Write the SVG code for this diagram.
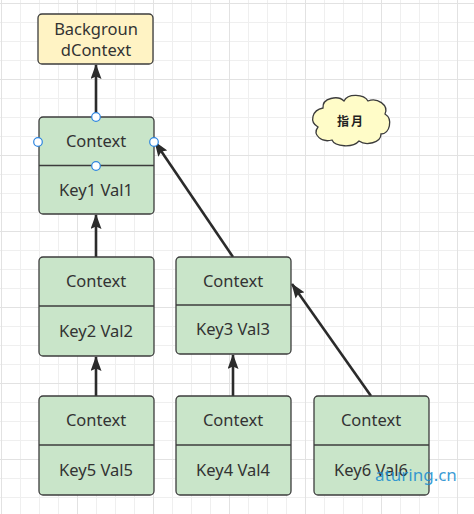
<svg xmlns="http://www.w3.org/2000/svg" width="474" height="514" viewBox="0 0 474 514">
<defs>
<pattern id="minor" x="1" y="3" width="19" height="19" patternUnits="userSpaceOnUse">
<rect x="0" y="0" width="19" height="1" fill="#efefef"/>
<rect x="0" y="0" width="1" height="19" fill="#efefef"/>
</pattern>
<pattern id="major" x="1" y="3" width="76" height="76" patternUnits="userSpaceOnUse">
<rect x="0" y="0" width="76" height="1" fill="#e2e2e2"/>
<rect x="0" y="0" width="1" height="76" fill="#e2e2e2"/>
</pattern>
<marker id="arr" viewBox="0 0 15 11" refX="14" refY="5.5" markerWidth="15" markerHeight="11" markerUnits="userSpaceOnUse" orient="auto">
<path d="M0 0L15 5.5L0 11L2.5 5.5Z" fill="#2b2b2b"/>
</marker>
<style>
.g{fill:#c9e5c9;stroke:#3c3c3c;stroke-width:1.3}
.y{fill:#fff3c4;stroke:#3c3c3c;stroke-width:1.3}
.t{font-family:"Noto Sans","Liberation Sans",sans-serif;font-size:16.5px;fill:#333;text-anchor:middle}
.c{fill:none;stroke:#2b2b2b;stroke-width:2.6;marker-end:url(#arr)}
.h{fill:#fff;stroke:#2f86e0;stroke-width:1.2}
</style>
</defs>
<rect width="474" height="514" fill="#fff"/>
<rect width="474" height="514" fill="url(#minor)"/>
<rect width="474" height="514" fill="url(#major)"/>

<g id="connectors">
<line class="c" x1="96" y1="117" x2="96" y2="65"/>
<line class="c" x1="96" y1="257" x2="96" y2="215"/>
<line class="c" x1="96" y1="396" x2="96" y2="357"/>
<line class="c" x1="233" y1="396" x2="233" y2="355"/>
<line class="c" x1="233" y1="257" x2="155" y2="142"/>
<line class="c" x1="371" y1="396" x2="292" y2="284"/>
</g>

<g id="bg">
<rect class="y" x="38" y="14" width="115" height="50" rx="4"/>
<text class="t" x="96" y="35">Backgroun</text>
<text class="t" x="96" y="56">dContext</text>
</g>

<g id="n1">
<rect class="g" x="39" y="117" width="115" height="97" rx="4"/>
<line x1="39" y1="165.5" x2="154" y2="165.5" stroke="#3c3c3c" stroke-width="1.3"/>
<text class="t" x="96" y="147">Context</text>
<text class="t" x="96" y="196">Key1 Val1</text>
</g>

<g id="n2">
<rect class="g" x="39" y="257" width="115" height="99" rx="4"/>
<line x1="39" y1="306" x2="154" y2="306" stroke="#3c3c3c" stroke-width="1.3"/>
<text class="t" x="96" y="287">Context</text>
<text class="t" x="96" y="337">Key2 Val2</text>
</g>

<g id="n3">
<rect class="g" x="176" y="257" width="115" height="97" rx="4"/>
<line x1="176" y1="305" x2="291" y2="305" stroke="#3c3c3c" stroke-width="1.3"/>
<text class="t" x="233" y="287">Context</text>
<text class="t" x="233" y="335">Key3 Val3</text>
</g>

<g id="n5">
<rect class="g" x="39" y="396" width="115" height="99" rx="4"/>
<line x1="39" y1="445" x2="154" y2="445" stroke="#3c3c3c" stroke-width="1.3"/>
<text class="t" x="96" y="426">Context</text>
<text class="t" x="96" y="476">Key5 Val5</text>
</g>

<g id="n4">
<rect class="g" x="176" y="396" width="115" height="99" rx="4"/>
<line x1="176" y1="445" x2="291" y2="445" stroke="#3c3c3c" stroke-width="1.3"/>
<text class="t" x="233" y="426">Context</text>
<text class="t" x="233" y="476">Key4 Val4</text>
</g>

<g id="n6">
<rect class="g" x="314" y="396" width="115" height="99" rx="4"/>
<line x1="314" y1="445" x2="429" y2="445" stroke="#3c3c3c" stroke-width="1.3"/>
<text class="t" x="371" y="426">Context</text>
<text class="t" x="371" y="476">Key6 Val6</text>
</g>

<g id="cloud">
<path d="M323 108 C322 98 338 95 344 101 C348 93 364 94 368 101 C377 97 389 105 385 114 C393 119 390 134 381 134 C381 143 366 146 359 141 C353 148 335 147 332 140 C322 143 312 135 318 127 C309 122 312 110 323 108 Z" fill="#fffcc8" stroke="#3c3c3c" stroke-width="1.3"/>
<text x="351" y="126" font-family="'Noto Sans CJK SC',sans-serif" font-size="12" font-weight="bold" letter-spacing="2" fill="#222" text-anchor="middle">指月</text>
</g>

<g id="handles">
<circle class="h" cx="96" cy="117" r="4.3"/>
<circle class="h" cx="38" cy="142" r="4.3"/>
<circle class="h" cx="154" cy="142" r="4.3"/>
<circle class="h" cx="96" cy="166" r="4.3"/>
</g>

<text x="416" y="481" font-family="'Noto Sans','Liberation Sans',sans-serif" font-size="17" fill="#1e8fd0" fill-opacity="0.9" text-anchor="middle">aturing.cn</text>
</svg>
